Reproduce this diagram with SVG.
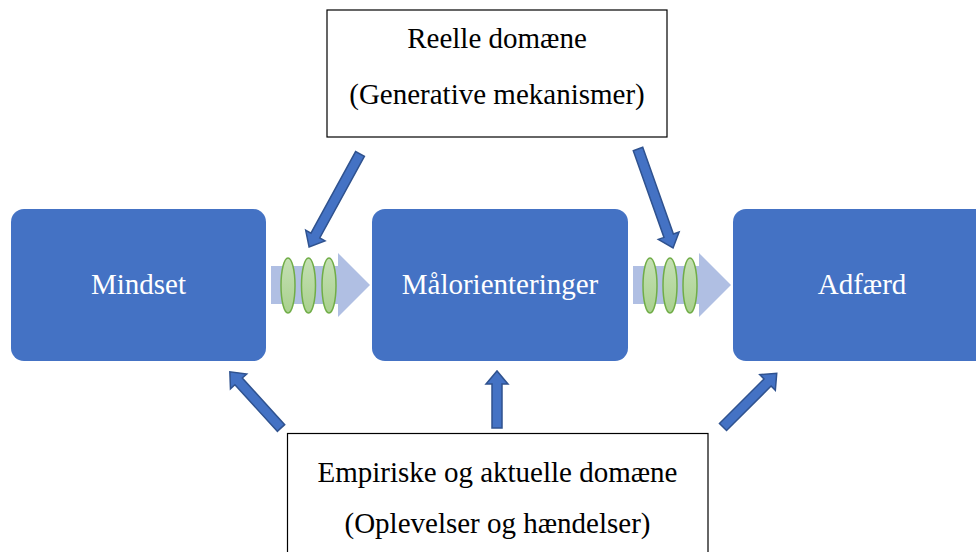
<svg xmlns="http://www.w3.org/2000/svg" width="976" height="552" viewBox="0 0 976 552">
<defs>
<style>
.node{fill:#4472c4;}
.ntext{font-family:"Liberation Serif","Times New Roman",serif;font-size:29px;fill:#ffffff;text-anchor:middle;}
.box{fill:#ffffff;stroke:#000000;stroke-width:1.2;}
.btext{font-family:"Liberation Serif","Times New Roman",serif;font-size:29px;fill:#000000;text-anchor:middle;}
.flow{fill:#b0bfe3;}
.ring{fill:url(#g);stroke:#70ad47;stroke-width:1.5;}
.barrow{fill:#4472c4;stroke:#2f528f;stroke-width:1.5;stroke-linejoin:miter;}
</style>
<linearGradient id="g" x1="0" y1="0" x2="0" y2="1">
<stop offset="0" stop-color="#c5e0b4"/>
<stop offset="1" stop-color="#a9d18e"/>
</linearGradient>
</defs>
<rect width="976" height="552" fill="#ffffff"/>
<g id="mindset">
<rect class="node" x="11" y="209" width="255" height="152" rx="13"/>
<text class="ntext" x="138.5" y="294">Mindset</text>
</g>
<g id="malorienteringer">
<rect class="node" x="372" y="209" width="256" height="152" rx="13"/>
<text class="ntext" x="500" y="294">Målorienteringer</text>
</g>
<g id="adfaerd">
<rect class="node" x="733" y="209" width="258" height="152" rx="13"/>
<text class="ntext" x="862" y="294">Adfærd</text>
</g>
<g id="reelle">
<rect class="box" x="327" y="10" width="340" height="127"/>
<text class="btext" x="497" y="48">Reelle domæne</text>
<text class="btext" x="497" y="104">(Generative mekanismer)</text>
</g>
<g id="empiriske">
<rect class="box" x="287.5" y="433.5" width="420.5" height="130"/>
<text class="btext" x="497.5" y="482">Empiriske og aktuelle domæne</text>
<text class="btext" x="497.5" y="533">(Oplevelser og hændelser)</text>
</g>
<g id="connectors">
<g id="flow1">
<polygon class="flow" points="271,266 338,266 338,253 370,285 338,317 338,304 271,304"/>
<ellipse class="ring" cx="288" cy="285.5" rx="7" ry="27.5"/>
<ellipse class="ring" cx="308.5" cy="285.5" rx="7" ry="27.5"/>
<ellipse class="ring" cx="329" cy="285.5" rx="7" ry="27.5"/>
</g>
<g id="flow2">
<polygon class="flow" points="633,266 699,266 699,253 731,285 699,317 699,304 633,304"/>
<ellipse class="ring" cx="650" cy="285.5" rx="7" ry="27.5"/>
<ellipse class="ring" cx="670" cy="285.5" rx="7" ry="27.5"/>
<ellipse class="ring" cx="690" cy="285.5" rx="7" ry="27.5"/>
</g>
<polygon class="barrow" transform="translate(360,154) rotate(118.7)" points="0,-5 93,-5 93,-11 106,0 93,11 93,5 0,5"/>
<polygon class="barrow" transform="translate(638,149) rotate(70.5)" points="0,-5 92,-5 92,-11 105,0 92,11 92,5 0,5"/>
<polygon class="barrow" transform="translate(281,428) rotate(-132.3)" points="0,-5 63,-5 63,-11 76,0 63,11 63,5 0,5"/>
<polygon class="barrow" transform="translate(497,428) rotate(-90)" points="0,-5 44,-5 44,-11 57,0 44,11 44,5 0,5"/>
<polygon class="barrow" transform="translate(723,427) rotate(-45)" points="0,-5 63,-5 63,-11 76,0 63,11 63,5 0,5"/>
</g>
</svg>
